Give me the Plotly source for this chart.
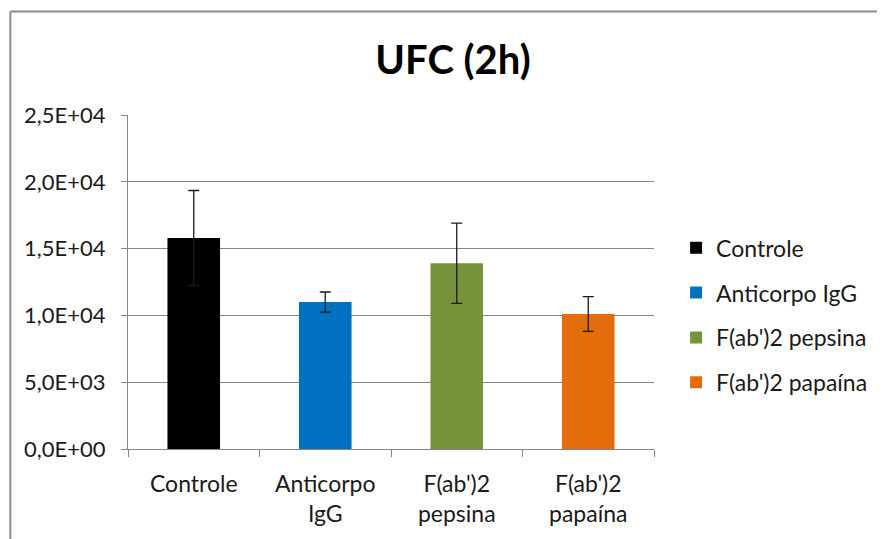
import plotly.graph_objects as go

categories = ["Controle", "Anticorpo<br>IgG", "F(ab')2<br>pepsina", "F(ab')2<br>papaína"]
series_names = ["Controle", "Anticorpo IgG", "F(ab')2 pepsina", "F(ab')2 papaína"]
values = [15800, 11000, 13900, 10100]
errors = [3550, 750, 3000, 1300]
colors = ["#000000", "#0070C0", "#77933C", "#E46C0A"]
y_tickvals = [0, 5000, 10000, 15000, 20000, 25000]
y_ticktext = ["0,0E+00", "5,0E+03", "1,0E+04", "1,5E+04", "2,0E+04", "2,5E+04"]

FONT = "Lato"
W, H = 877, 531  # page body adds an 8px offset inside the 885x539 window
fig = go.Figure()
for i in range(len(categories)):
    fig.add_trace(go.Bar(
        x=[categories[i]], y=[values[i]], name=series_names[i],
        marker=dict(color=colors[i], line=dict(width=0)),
        width=0.4, legendgroup=f"g{i}",
        error_y=dict(type="data", array=[errors[i]], color="#1a1a1a",
                     thickness=1.3, width=5.5),
    ))

fig.update_layout(
    width=W, height=H,
    barmode="overlay",
    paper_bgcolor="white", plot_bgcolor="white",
    margin=dict(l=120, r=225, t=107, b=88),
    title=dict(text="<b>UFC (2h)</b>", x=445/W, xanchor="center",
               y=1 - 52/H, yanchor="middle",
               font=dict(family=FONT, size=40, color="#000000")),
    font=dict(family=FONT, size=23, color="#1a1a1a"),
    legend=dict(x=1.042, xanchor="left", y=0.667, yanchor="top",
                font=dict(family=FONT, size=23, color="#1a1a1a"),
                tracegroupgap=12, bgcolor="rgba(0,0,0,0)"),
    showlegend=True,
)
fig.update_xaxes(
    categoryorder="array", categoryarray=categories,
    showline=True, linecolor="#868686", linewidth=1.3,
    ticks="outside", tickson="boundaries", ticklen=7, tickcolor="#868686",
    tickwidth=1.3, showgrid=False, range=[-0.5, 3.5],
    tickfont=dict(family=FONT, size=23, color="#1a1a1a"),
    ticklabelstandoff=14,
)
fig.update_yaxes(
    range=[0, 25000], tickvals=y_tickvals, ticktext=y_ticktext,
    showline=True, linecolor="#868686", linewidth=1.3,
    ticks="outside", ticklen=6, tickcolor="#868686", tickwidth=1.3,
    showgrid=True, gridcolor="#868686", gridwidth=1.3,
    zeroline=False, ticklabelstandoff=11,
    tickfont=dict(family=FONT, size=22, color="#1a1a1a"),
)
# outer chart border (top and left edges visible)
fig.add_shape(type="line", xref="paper", yref="paper",
              x0=-119/532, x1=1.5, y0=1 + 104/336, y1=1 + 104/336,
              line=dict(color="#8c8c8c", width=2))
fig.add_shape(type="line", xref="paper", yref="paper",
              x0=-119/532, x1=-119/532, y0=-0.5, y1=1 + 104/336,
              line=dict(color="#8c8c8c", width=2))

fig.write_html("out.html")
